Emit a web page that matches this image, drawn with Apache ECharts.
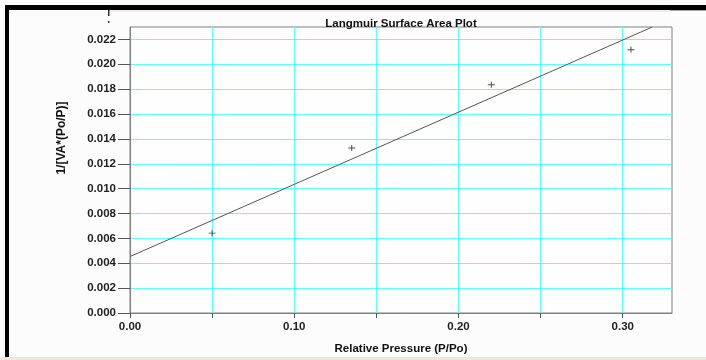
<!doctype html>
<html>
<head>
	<meta charset="utf-8">
	<title>Langmuir Surface Area Plot</title>
	<script src="https://cdn.jsdelivr.net/npm/echarts@6/dist/echarts.min.js"></script>
	<style>
		html, body { margin: 0; padding: 0; background: #fcfcfc; }
	</style>
</head>
<body>
	<div id="chart" style="width: 706px; height: 360px;"></div>
	<script>
		// measured points (relative pressure vs 1/[VA*(Po/P)])
		var pressure = [0.050, 0.135, 0.220, 0.305];
		var invVA = [0.00642, 0.01327, 0.01836, 0.02117];
		// fitted line end points
		var fitX = [0, 0.318];
		var fitY = [0.00454, 0.0230];
		// tick labels
		var xTickVals = [0, 0.05, 0.10, 0.15, 0.20, 0.25, 0.30];
		var xLabelVals = [0, 0.10, 0.20, 0.30];
		var yTickVals = [0, 0.002, 0.004, 0.006, 0.008, 0.010, 0.012, 0.014, 0.016, 0.018, 0.020, 0.022];

		var pts = pressure.map(function (x, i) { return [x, invVA[i]]; });
		var fit = fitX.map(function (x, i) { return [x, fitY[i]]; });

		var myChart = echarts.init(document.getElementById('chart'));
		var font = 'Liberation Sans, Arial, sans-serif';
		option = {
			backgroundColor: '#fcfcfc',
			animation: false,
			title: {
				text: 'Langmuir Surface Area Plot',
				left: 396,
				top: 13,
				textAlign: 'center',
				textStyle: {fontFamily: font, fontSize: 11.5, fontWeight: 'bold', color: '#111'}
			},
			grid: {left: 130, right: 34, top: 27, bottom: 47, show: true, borderColor: '#808080', borderWidth: 1, backgroundColor: '#fefefe'},
			xAxis: {
				type: 'value', min: 0, max: 0.33, interval: 0.05,
				name: 'Relative Pressure (P/Po)', nameLocation: 'middle', nameGap: 30,
				nameTextStyle: {fontFamily: font, fontSize: 11.5, fontWeight: 'bold', color: '#111'},
				axisLine: {lineStyle: {color: '#808080'}},
				axisTick: {length: 5, lineStyle: {color: '#555'}, customValues: xTickVals},
				axisLabel: {
					margin: 8, customValues: xLabelVals,
					fontFamily: font, fontSize: 11.5, fontWeight: 'bold', color: '#222',
					formatter: function (v) { return v.toFixed(2); }
				},
				splitLine: {show: true, lineStyle: {color: '#5cffff', width: 1.2}}
			},
			yAxis: {
				type: 'value', min: 0, max: 0.023, interval: 0.002,
				axisLine: {show: true, lineStyle: {color: '#808080'}},
				axisTick: {show: true, length: 12, lineStyle: {color: '#555'}, customValues: yTickVals},
				axisLabel: {
					margin: 14, customValues: yTickVals,
					fontFamily: font, fontSize: 11.5, fontWeight: 'bold', color: '#222',
					formatter: function (v) { return v.toFixed(3); }
				},
				splitLine: {show: true, lineStyle: {color: '#5cffff', width: 1.2}}
			},
			graphic: [
				{type: 'rect', shape: {x: 5, y: 5, width: 701, height: 5}, style: {fill: '#000'}},
				{type: 'rect', shape: {x: 5, y: 5, width: 4, height: 352}, style: {fill: '#000'}},
				{type: 'rect', shape: {x: 110, y: 10, width: 560, height: 2}, style: {fill: '#f2ede2'}},
				{type: 'rect', shape: {x: 670, y: 10, width: 36, height: 1}, style: {fill: '#a8a8a8'}},
				{type: 'rect', shape: {x: 0, y: 357, width: 706, height: 3}, style: {fill: '#eee8da'}},
				{type: 'rect', shape: {x: 108, y: 10, width: 1.5, height: 6}, style: {fill: '#333'}},
				{type: 'rect', shape: {x: 108, y: 21, width: 1.5, height: 2}, style: {fill: '#333'}},
				{
					type: 'text', x: 62, y: 138, rotation: Math.PI / 2,
					style: {text: '1/[VA*(Po/P)]', fill: '#111', font: 'bold 12px Liberation Sans, Arial, sans-serif', align: 'center', verticalAlign: 'middle'}
				}
			],
			series: [
				{
					type: 'line', data: fit, symbol: 'none', clip: true,
					lineStyle: {color: '#555', width: 1}
				},
				{
					type: 'scatter', data: pts,
					symbol: 'path://M0,3H3V0H4V3H7V4H4V7H3V4H0Z', symbolSize: [7, 6],
					itemStyle: {color: '#222'}
				}
			]
		};
		myChart.setOption(option);
	</script>
</body>
</html>
